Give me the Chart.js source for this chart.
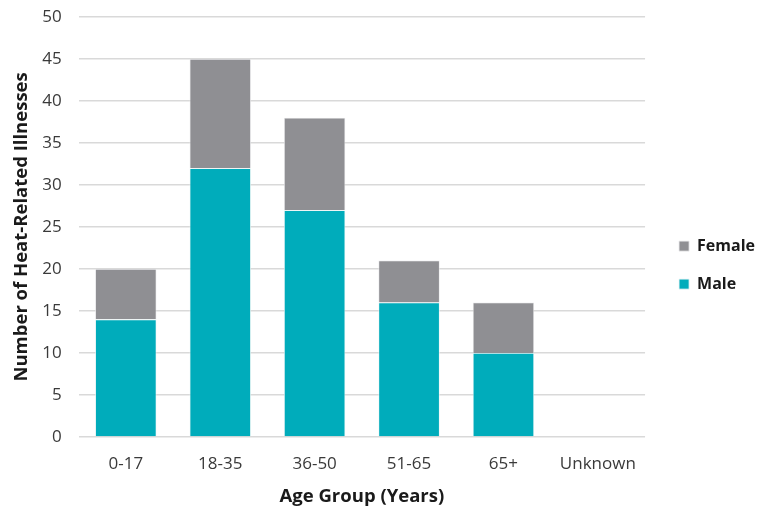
<!DOCTYPE html>
<html>
<head>
<meta charset="utf-8">
<script src="https://cdn.jsdelivr.net/npm/chart.js@4/dist/chart.umd.min.js"></script>
<style>
html,body{margin:0;padding:0;background:#fff;}
#wrap{width:757px;height:508px;}
</style>
</head>
<body>
<div id="wrap"><canvas id="c" width="757" height="508"></canvas></div>
<script>
const categories = ["0-17", "18-35", "36-50", "51-65", "65+", "Unknown"];
const maleValues = [14, 32, 27, 16, 10, 0];
const femaleValues = [6, 13, 11, 5, 6, 0];
const yTicks = [0, 5, 10, 15, 20, 25, 30, 35, 40, 45, 50];

const FONT = "'Open Sans', 'Noto Sans', sans-serif";
Chart.defaults.font.family = FONT;

new Chart(document.getElementById('c'), {
  type: 'bar',
  data: {
    labels: categories,
    datasets: [
      { label: 'Male', data: maleValues, backgroundColor: '#00acbb', borderColor: '#e8f4f5', borderWidth: 0.8, order: 1 },
      { label: 'Female', data: femaleValues, backgroundColor: '#8f8f93', borderColor: '#e8e8ea', borderWidth: 0.8, order: 2 }
    ]
  },
  options: {
    responsive: false,
    animation: false,
    devicePixelRatio: 1,
    layout: { padding: { left: 11, right: -8, top: 17, bottom: 0 } },
    datasets: { bar: { categoryPercentage: 1.0, barPercentage: 0.65 } },
    scales: {
      x: {
        stacked: true,
        grid: { display: false, drawTicks: false },
        border: { display: false },
        ticks: { color: '#3a3a3a', font: { size: 17 }, padding: 17 },
        title: { display: true, text: 'Age Group (Years)', color: '#1a1a1a', font: { size: 18.5, weight: 'bold' }, padding: { top: -5.5, bottom: 0 } }
      },
      y: {
        stacked: true,
        min: 0, max: 50,
        afterBuildTicks: (ax) => { ax.ticks = yTicks.map(v => ({ value: v })); },
        afterFit: (ax) => { ax.paddingTop = 0; ax.paddingBottom = 0; },
        grid: { color: '#d9d9d9', lineWidth: 1.5, drawTicks: false },
        border: { display: false },
        ticks: { color: '#3a3a3a', font: { size: 17 }, padding: 17 },
        title: { display: true, text: 'Number of Heat-Related Illnesses', color: '#1a1a1a', font: { size: 18.5, weight: 'bold' }, padding: { top: 0, bottom: -8 } }
      },
      gap: {
        position: 'right',
        display: true,
        grid: { display: false, drawTicks: false },
        border: { display: false },
        ticks: { display: false },
        afterFit: (ax) => { ax.width = 12; ax.paddingTop = 0; ax.paddingBottom = 0; }
      }
    },
    plugins: {
      legend: {
        position: 'right',
        reverse: true,
        title: { display: true, text: ' ', font: { size: 1 }, padding: 2 },
        labels: {
          boxWidth: 10, boxHeight: 10, padding: 22,
          color: '#1a1a1a',
          font: { size: 16, weight: 'bold' }
        }
      },
      tooltip: { enabled: false }
    }
  }
});
</script>
</body>
</html>
